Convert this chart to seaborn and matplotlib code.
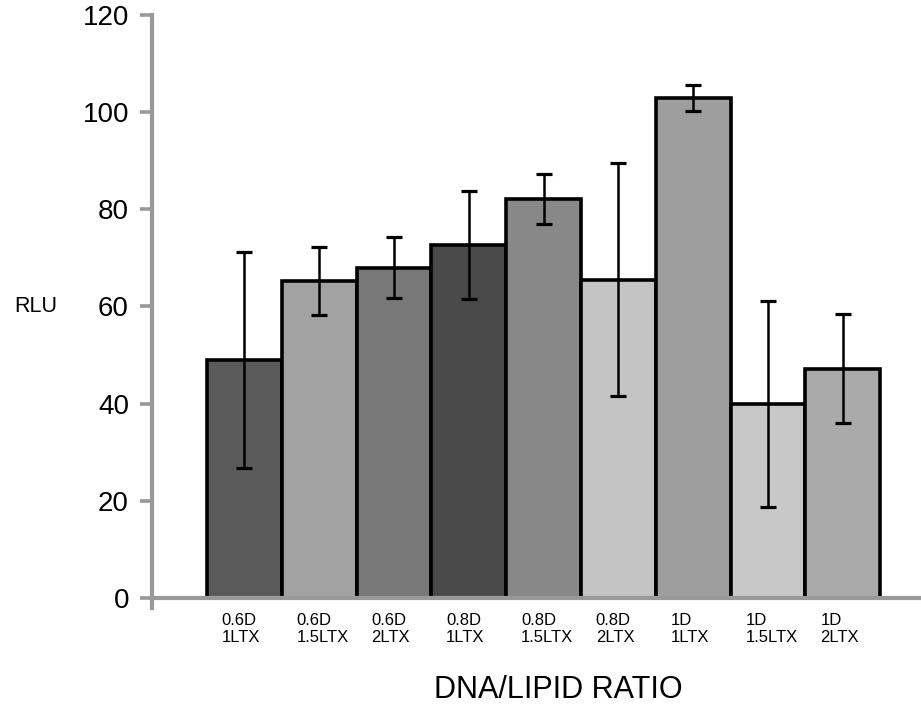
import numpy as np
import matplotlib
matplotlib.use("Agg")
import matplotlib.pyplot as plt
import matplotlib.transforms as mtransforms
import seaborn as sns

# Transfection efficiency for each DNA/lipid formulation
labels = ["0.6D\n1LTX", "0.6D\n1.5LTX", "0.6D\n2LTX",
          "0.8D\n1LTX", "0.8D\n1.5LTX", "0.8D\n2LTX",
          "1D\n1LTX", "1D\n1.5LTX", "1D\n2LTX"]
rlu = [49.0, 65.3, 68.0, 72.6, 82.1, 65.5, 102.9, 39.9, 47.2]
err = [22.3, 7.0, 6.3, 11.1, 5.2, 24.0, 2.6, 21.3, 11.3]
bar_colors = ["#5a5a5a", "#a2a2a2", "#787878", "#4a4a4a", "#888888",
              "#c4c4c4", "#9e9e9e", "#c8c8c8", "#aaaaaa"]

sns.set_style("white")
plt.rcParams["font.family"] = ["Liberation Sans", "DejaVu Sans"]
plt.rcParams["text.color"] = "black"
plt.rcParams["axes.labelcolor"] = "black"
plt.rcParams["xtick.color"] = "black"
plt.rcParams["ytick.color"] = "black"

fig = plt.figure(figsize=(9.21, 7.04), dpi=100)
ax = fig.add_axes([0.165, 0.1364, 0.835, 0.8423])

sns.barplot(x=labels, y=rlu, hue=labels, palette=bar_colors, legend=False,
            width=1.0, edgecolor="black", linewidth=2.6, errorbar=None, ax=ax)

ax.errorbar(np.arange(len(rlu)), rlu, yerr=err, fmt="none", ecolor="black",
            elinewidth=1.8, capsize=5.8, capthick=2.3, zorder=5)

ax.set_xlim(-1.235, 9.046)
ax.set_ylim(-2.1, 120)
ax.set_yticks(np.arange(0, 121, 20))

grey = "#999999"
for side in ("top", "right"):
    ax.spines[side].set_visible(False)
ax.spines["left"].set_color(grey)
ax.spines["left"].set_linewidth(3.0)
ax.spines["bottom"].set_color(grey)
ax.spines["bottom"].set_linewidth(3.0)
ax.spines["bottom"].set_position(("data", 0))

ax.tick_params(axis="y", direction="out", length=8.6, width=2.6, color=grey,
               pad=8, labelsize=20, labelcolor="black", left=True)
ax.tick_params(axis="x", length=0, pad=11, labelsize=12, labelcolor="black")

# category labels: left-aligned two-line blocks starting near each bar's left edge
shift = mtransforms.ScaledTranslation(-0.225, 0, fig.dpi_scale_trans)
for t in ax.get_xticklabels():
    t.set_horizontalalignment("left")
    t.set_multialignment("left")
    t.set_linespacing(1.2)
    t.set_transform(t.get_transform() + shift)

ax.set_xlabel("DNA/LIPID RATIO", fontsize=22, color="black")
ax.xaxis.set_label_coords(0.529, -0.113)
ax.set_ylabel("RLU", fontsize=15.5, rotation=0, color="black")
ax.yaxis.set_label_coords(-0.151, 0.49)

fig.savefig("out.png", dpi=100)
